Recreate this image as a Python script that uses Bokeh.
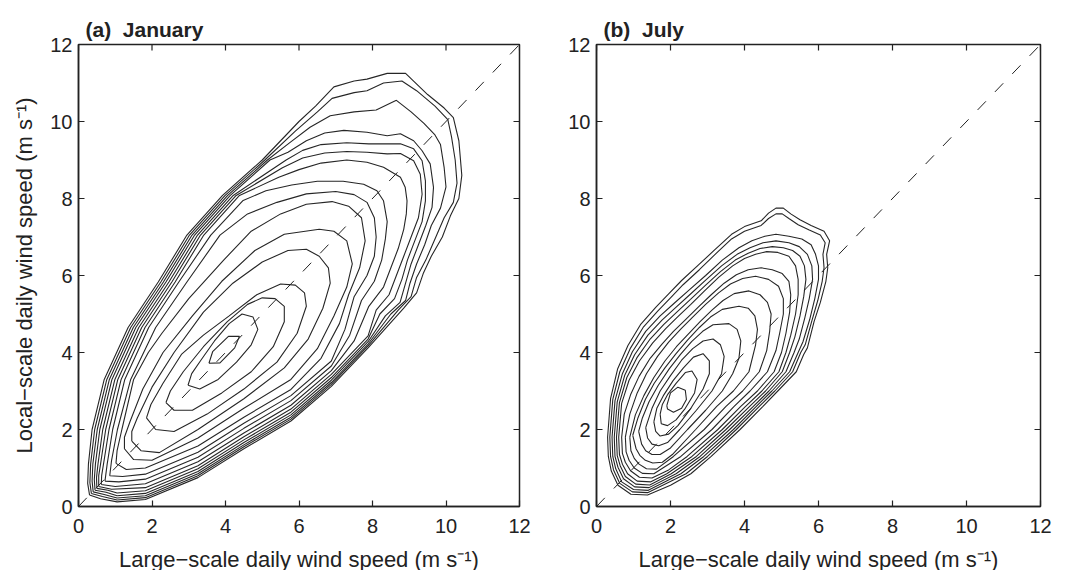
from bokeh.plotting import figure
from bokeh.layouts import row
from bokeh.models import FixedTicker, ColumnDataSource, Range1d
from bokeh.embed import file_html
from bokeh.resources import INLINE

# ---------------- data ----------------
TICKS = [0, 2, 4, 6, 8, 10, 12]
TITLES = ["(a) \u00a0January", "(b) \u00a0July"]
X_LABEL = "Large\u2212scale daily wind speed (m s\u207b\u00b9)"
Y_LABEL = "Local\u2212scale daily wind speed (m s\u207b\u00b9)"
DIAG_X = [0, 12]
DIAG_Y = [0, 12]

# (a) January: contour lines, innermost (01) to outermost (16), points (x, y)
JAN_01 = [(3.55,3.72),(3.85,3.73),(4.25,4.12),(4.38,4.42),(4.08,4.42),(3.65,4.02),(3.55,3.72)]
JAN_02 = [(2.98,3.15),(3.3,3.05),(3.8,3.3),(4.3,3.75),(4.7,4.2),(4.88,4.6),(4.75,4.92),(4.45,5.0),(4.1,4.75),(3.7,4.3),(3.33,3.8),(3.08,3.45),(2.98,3.15)]
JAN_03 = [(2.38,2.7),(2.6,2.5),(3.1,2.5),(3.9,2.95),(4.7,3.5),(5.3,4.15),(5.6,4.8),(5.6,5.2),(5.35,5.4),(5.0,5.42),(4.6,5.25),(4.05,4.8),(3.4,4.15),(2.85,3.5),(2.5,3.0),(2.38,2.7)]
JAN_04 = [(1.85,2.3),(2.1,2.0),(2.6,1.95),(3.5,2.4),(4.5,3.05),(5.4,3.75),(5.95,4.5),(6.2,5.2),(6.15,5.55),(5.9,5.75),(5.5,5.78),(4.85,5.5),(4.1,4.95),(3.4,4.45),(2.8,3.95),(2.3,3.2),(1.97,2.65),(1.85,2.3)]
JAN_05 = [(1.45,1.7),(1.7,1.45),(2.2,1.4),(3.25,2.0),(4.5,2.8),(5.6,3.6),(6.25,4.35),(6.65,5.15),(6.85,5.8),(6.8,6.2),(6.55,6.5),(6.2,6.68),(5.7,6.65),(5.0,6.35),(4.2,5.8),(3.4,5.05),(2.6,4.0),(2.0,3.1),(1.6,2.3),(1.45,1.95),(1.45,1.7)]
JAN_06 = [(1.25,1.5),(1.5,1.22),(2.0,1.2),(3.25,1.78),(4.5,2.55),(5.78,3.3),(6.5,4.1),(6.95,4.95),(7.3,5.7),(7.45,6.3),(7.3,6.9),(6.95,7.15),(6.55,7.2),(5.6,7.07),(4.8,6.65),(3.9,5.85),(3.1,4.95),(2.3,4.0),(1.75,3.05),(1.4,2.2),(1.25,1.8),(1.25,1.5)]
JAN_07 = [(1.02,1.12),(1.3,0.96),(1.82,1.0),(3.25,1.57),(4.5,2.32),(5.78,3.04),(6.6,3.85),(7.1,4.75),(7.35,5.5),(7.65,6.2),(7.8,6.9),(7.7,7.5),(7.35,7.8),(6.9,7.92),(6.2,7.85),(5.5,7.6),(4.7,7.15),(3.95,6.4),(3.0,5.4),(2.27,4.5),(1.9,4.0),(1.5,3.3),(1.18,2.0),(1.05,1.45),(1.02,1.12)]
JAN_08 = [(0.85,0.8),(1.2,0.78),(1.82,0.84),(3.25,1.41),(4.5,2.16),(5.78,2.88),(6.88,3.78),(7.25,4.6),(7.5,5.45),(7.85,6.0),(8.05,6.5),(8.1,7.0),(8.05,7.5),(7.85,7.9),(7.5,8.1),(7.0,8.18),(6.2,8.12),(5.4,7.9),(4.6,7.6),(3.85,7.05),(2.95,5.83),(2.1,4.65),(1.42,3.3),(1.06,2.0),(0.9,1.2),(0.85,0.8)]
JAN_09 = [(0.72,0.66),(1.1,0.64),(1.82,0.71),(3.25,1.28),(4.5,2.03),(5.78,2.75),(6.88,3.65),(7.38,4.45),(7.7,5.35),(8.05,5.85),(8.25,6.4),(8.35,6.95),(8.4,7.4),(8.3,7.94),(8.12,8.2),(7.76,8.37),(7.2,8.45),(6.5,8.45),(5.8,8.35),(5.1,8.2),(4.48,7.95),(3.6,7.05),(2.73,5.83),(1.91,4.65),(1.26,3.3),(0.93,2.0),(0.78,1.1),(0.72,0.66)]
JAN_10 = [(0.62,0.57),(1.0,0.52),(1.82,0.59),(3.25,1.16),(4.5,1.91),(5.78,2.63),(6.88,3.53),(7.5,4.3),(7.9,5.2),(8.3,5.7),(8.5,6.2),(8.7,6.7),(8.85,7.2),(8.92,7.6),(8.94,7.94),(8.89,8.29),(8.76,8.55),(8.3,8.81),(7.85,8.94),(7.3,9.0),(6.6,8.92),(6.0,8.75),(5.45,8.55),(4.38,8.08),(3.41,7.05),(2.63,5.83),(1.81,4.65),(1.16,3.3),(0.83,2.0),(0.68,1.1),(0.63,0.8),(0.62,0.57)]
JAN_11 = [(0.55,0.52),(0.9,0.45),(1.82,0.49),(3.25,1.06),(4.5,1.81),(5.78,2.53),(6.88,3.43),(7.88,4.43),(8.1,5.1),(8.45,5.5),(8.65,6.0),(8.85,6.5),(9.05,7.0),(9.25,7.5),(9.35,8.11),(9.3,8.63),(9.12,8.98),(8.76,9.17),(8.4,9.16),(7.85,9.2),(7.3,9.22),(6.7,9.18),(6.1,9.05),(5.55,8.8),(4.29,8.08),(3.32,7.05),(2.54,5.83),(1.72,4.65),(1.07,3.3),(0.74,2.0),(0.6,1.1),(0.55,0.8),(0.55,0.52)]
JAN_12 = [(0.5,0.47),(0.8,0.42),(1.05,0.35),(1.82,0.41),(3.25,0.98),(4.5,1.73),(5.78,2.45),(6.88,3.35),(7.88,4.35),(8.2,5.0),(8.6,5.4),(8.8,5.9),(8.95,6.4),(9.15,6.9),(9.35,7.4),(9.44,7.94),(9.44,8.46),(9.35,8.98),(9.12,9.29),(8.76,9.42),(8.4,9.42),(7.9,9.42),(7.3,9.45),(6.6,9.4),(6.1,9.25),(5.65,9.0),(4.21,8.08),(3.24,7.05),(2.46,5.83),(1.64,4.65),(0.99,3.3),(0.66,2.0),(0.53,1.1),(0.49,0.75),(0.5,0.47)]
JAN_13 = [(0.45,0.42),(0.75,0.37),(1.05,0.28),(1.82,0.34),(3.25,0.91),(4.5,1.66),(5.78,2.38),(6.88,3.28),(7.88,4.28),(8.35,4.95),(8.75,5.3),(8.9,5.8),(9.05,6.3),(9.25,6.8),(9.45,7.3),(9.62,7.77),(9.66,8.29),(9.57,8.9),(9.35,9.24),(9.12,9.5),(8.76,9.68),(8.4,9.63),(7.85,9.72),(7.22,9.77),(6.7,9.7),(6.2,9.5),(5.7,9.2),(5.21,9.0),(4.13,8.08),(3.16,7.05),(2.38,5.83),(1.56,4.65),(0.91,3.3),(0.58,2.0),(0.46,1.1),(0.43,0.7),(0.45,0.42)]
JAN_14 = [(0.4,0.38),(0.7,0.31),(1.05,0.22),(1.82,0.28),(3.25,0.85),(4.5,1.6),(5.78,2.32),(6.88,3.22),(7.88,4.22),(8.5,5.0),(8.9,5.35),(9.02,5.8),(9.2,6.3),(9.42,6.8),(9.6,7.3),(9.85,7.75),(10.0,8.3),(9.95,8.8),(9.85,9.4),(9.7,9.65),(9.4,9.95),(9.05,10.25),(8.65,10.55),(8.1,10.3),(7.5,10.25),(6.85,10.15),(6.3,9.85),(5.75,9.45),(5.14,9.0),(4.06,8.08),(3.09,7.05),(2.31,5.83),(1.49,4.65),(0.84,3.3),(0.51,2.0),(0.39,1.1),(0.37,0.66),(0.4,0.38)]
JAN_15 = [(0.35,0.34),(0.65,0.26),(1.05,0.17),(1.82,0.23),(3.25,0.8),(4.5,1.55),(5.78,2.27),(6.88,3.17),(7.88,4.17),(8.7,5.1),(9.05,5.45),(9.2,5.95),(9.45,6.4),(9.7,6.95),(9.95,7.5),(10.2,7.9),(10.3,8.4),(10.25,9.0),(10.15,9.6),(10.05,10.05),(9.7,10.4),(9.2,10.8),(8.8,11.05),(8.3,11.0),(7.85,10.8),(7.5,10.75),(6.9,10.6),(6.5,10.25),(5.9,9.75),(5.07,9.0),(3.99,8.08),(3.02,7.05),(2.24,5.83),(1.42,4.65),(0.77,3.3),(0.44,2.0),(0.33,1.1),(0.31,0.62),(0.35,0.34)]
JAN_16 = [(0.3,0.3),(0.6,0.2),(1.05,0.12),(1.82,0.18),(3.25,0.75),(4.5,1.5),(5.78,2.22),(6.88,3.12),(7.88,4.12),(8.85,5.15),(9.2,5.55),(9.38,6.05),(9.6,6.5),(9.9,7.0),(10.12,7.55),(10.35,8.0),(10.43,8.6),(10.35,9.5),(10.2,10.1),(9.95,10.35),(9.5,10.7),(8.9,11.25),(8.4,11.25),(7.85,11.1),(7.5,11.05),(6.95,10.9),(6.45,10.4),(6.0,10.0),(5.0,9.0),(3.92,8.08),(2.95,7.05),(2.17,5.83),(1.35,4.65),(0.7,3.3),(0.37,2.0),(0.27,1.1),(0.25,0.6),(0.3,0.3)]

# (b) July: contour lines, innermost (01) to outermost (15), points (x, y)
JUL_01 = [(1.9,2.62),(2.0,2.95),(2.2,3.1),(2.4,3.02),(2.43,2.78),(2.3,2.55),(2.08,2.45),(1.92,2.53),(1.9,2.62)]
JUL_02 = [(1.72,2.4),(1.75,2.15),(1.92,2.1),(2.15,2.25),(2.4,2.55),(2.65,2.95),(2.72,3.3),(2.58,3.52),(2.4,3.48),(2.15,3.2),(1.93,2.92),(1.78,2.65),(1.72,2.4)]
JUL_03 = [(1.55,2.2),(1.6,1.95),(1.72,1.83),(1.95,1.88),(2.2,2.1),(2.55,2.55),(2.88,3.05),(3.05,3.45),(3.05,3.78),(2.88,3.97),(2.62,3.88),(2.35,3.6),(2.07,3.27),(1.82,2.9),(1.63,2.55),(1.55,2.2)]
JUL_04 = [(1.33,2.05),(1.38,1.78),(1.5,1.62),(1.68,1.58),(1.92,1.66),(2.25,2.0),(2.7,2.5),(3.12,3.0),(3.38,3.45),(3.45,3.9),(3.35,4.2),(3.15,4.35),(2.88,4.3),(2.6,4.1),(2.3,3.8),(2.0,3.4),(1.72,3.0),(1.5,2.55),(1.33,2.05)]
JUL_05 = [(1.14,1.95),(1.22,1.62),(1.33,1.45),(1.5,1.35),(1.72,1.35),(2.0,1.52),(2.46,2.0),(2.95,2.5),(3.4,3.0),(3.68,3.45),(3.85,3.85),(3.9,4.3),(3.8,4.6),(3.58,4.75),(3.15,4.72),(2.87,4.55),(2.57,4.28),(2.27,3.95),(1.97,3.58),(1.67,3.15),(1.42,2.72),(1.24,2.3),(1.14,1.95)]
JUL_06 = [(0.98,1.85),(1.07,1.5),(1.17,1.33),(1.32,1.2),(1.52,1.13),(1.78,1.15),(2.05,1.35),(2.68,2.0),(3.25,2.6),(3.7,3.0),(4.12,3.5),(4.3,4.2),(4.35,4.6),(4.28,4.95),(4.1,5.15),(3.85,5.2),(3.4,5.12),(3.08,4.92),(2.78,4.65),(2.46,4.32),(2.15,3.97),(1.85,3.6),(1.56,3.2),(1.32,2.78),(1.12,2.3),(0.98,1.85)]
JUL_07 = [(0.9,1.8),(0.93,1.45),(1.02,1.25),(1.15,1.1),(1.35,0.98),(1.62,0.97),(2.08,1.3),(2.91,2.0),(3.5,2.6),(3.95,3.0),(4.4,3.5),(4.6,4.05),(4.68,4.55),(4.72,5.0),(4.62,5.3),(4.42,5.5),(4.12,5.6),(3.72,5.53),(3.42,5.35),(3.12,5.1),(2.8,4.8),(2.48,4.48),(2.16,4.15),(1.85,3.78),(1.55,3.35),(1.28,2.88),(1.05,2.38),(0.9,1.8)]
JUL_08 = [(0.78,1.8),(0.8,1.42),(0.88,1.2),(1.02,1.0),(1.24,0.86),(1.55,0.85),(2.28,1.3),(3.12,2.0),(3.72,2.6),(4.15,3.0),(4.62,3.5),(4.85,4.05),(4.95,4.5),(5.05,5.0),(5.05,5.4),(4.92,5.72),(4.65,5.9),(4.3,5.98),(3.95,5.92),(3.62,5.78),(3.3,5.55),(2.95,5.25),(2.6,4.92),(2.27,4.6),(1.95,4.27),(1.65,3.9),(1.35,3.45),(1.1,2.95),(0.9,2.4),(0.78,1.8)]
JUL_09 = [(0.68,1.8),(0.7,1.38),(0.78,1.15),(0.92,0.93),(1.16,0.76),(1.5,0.74),(1.95,0.95),(2.45,1.3),(3.28,2.0),(3.9,2.6),(4.35,3.0),(4.8,3.5),(5.0,4.0),(5.12,4.5),(5.22,5.05),(5.25,5.5),(5.2,5.85),(5.02,6.05),(4.75,6.15),(4.45,6.2),(4.1,6.15),(3.78,6.02),(3.45,5.8),(3.1,5.5),(2.75,5.18),(2.4,4.85),(2.08,4.55),(1.77,4.22),(1.45,3.85),(1.15,3.38),(0.92,2.9),(0.75,2.4),(0.68,1.8)]
JUL_10 = [(0.6,1.8),(0.62,1.35),(0.7,1.1),(0.84,0.85),(1.1,0.66),(1.47,0.64),(1.9,0.85),(2.58,1.3),(3.4,2.0),(4.03,2.6),(4.47,3.0),(4.93,3.5),(5.12,4.0),(5.25,4.45),(5.38,5.0),(5.45,5.5),(5.45,5.9),(5.38,6.25),(5.2,6.5),(4.9,6.6),(4.6,6.62),(4.3,6.55),(4.0,6.44),(3.68,6.25),(3.3,5.95),(2.92,5.6),(2.55,5.25),(2.2,4.93),(1.87,4.62),(1.52,4.25),(1.16,3.78),(0.88,3.28),(0.68,2.68),(0.6,1.8)]
JUL_11 = [(0.54,1.8),(0.56,1.32),(0.64,1.06),(0.78,0.78),(1.06,0.58),(1.44,0.56),(2.02,0.85),(2.7,1.3),(3.5,2.0),(4.14,2.6),(4.57,3.0),(5.02,3.5),(5.22,4.0),(5.36,4.4),(5.5,4.95),(5.6,5.45),(5.66,5.9),(5.62,6.25),(5.5,6.5),(5.3,6.65),(5.05,6.72),(4.75,6.75),(4.42,6.7),(4.1,6.58),(3.75,6.4),(3.35,6.1),(2.95,5.75),(2.54,5.38),(2.17,5.05),(1.82,4.73),(1.45,4.35),(1.09,3.86),(0.82,3.35),(0.62,2.7),(0.54,1.8)]
JUL_12 = [(0.48,1.8),(0.5,1.3),(0.58,1.02),(0.73,0.72),(1.03,0.51),(1.42,0.49),(2.15,0.85),(2.8,1.3),(3.6,2.0),(4.24,2.6),(4.66,3.0),(5.12,3.5),(5.34,4.0),(5.48,4.35),(5.63,4.9),(5.75,5.4),(5.84,5.9),(5.82,6.25),(5.7,6.55),(5.48,6.75),(5.2,6.85),(4.85,6.9),(4.5,6.85),(4.15,6.72),(3.8,6.55),(3.38,6.25),(2.95,5.88),(2.52,5.5),(2.13,5.16),(1.77,4.84),(1.39,4.45),(1.03,3.94),(0.76,3.4),(0.56,2.72),(0.48,1.8)]
JUL_13 = [(0.42,1.8),(0.44,1.3),(0.52,0.98),(0.68,0.64),(1.0,0.44),(1.4,0.42),(2.28,0.85),(2.9,1.3),(3.7,2.0),(4.32,2.6),(4.74,3.0),(5.22,3.5),(5.45,4.0),(5.58,4.28),(5.76,4.85),(5.9,5.4),(6.0,5.9),(6.0,6.25),(5.92,6.55),(5.8,6.8),(5.55,6.95),(5.2,7.02),(4.85,7.07),(4.55,7.02),(4.2,6.9),(3.85,6.72),(3.4,6.4),(2.95,6.0),(2.5,5.62),(2.1,5.28),(1.72,4.95),(1.33,4.55),(0.97,4.02),(0.7,3.45),(0.5,2.75),(0.42,1.8)]
JUL_14 = [(0.36,1.8),(0.38,1.3),(0.46,0.95),(0.63,0.6),(0.97,0.38),(1.38,0.36),(2.42,0.85),(3.0,1.3),(3.78,2.0),(4.4,2.6),(4.82,3.0),(5.3,3.5),(5.52,4.0),(5.64,4.2),(5.82,4.82),(5.98,5.35),(6.1,5.85),(6.15,6.2),(6.12,6.55),(6.18,6.85),(6.05,7.05),(5.75,7.18),(5.45,7.32),(5.2,7.48),(5.02,7.6),(4.85,7.6),(4.65,7.48),(4.45,7.3),(4.0,7.15),(3.65,6.95),(3.22,6.56),(2.78,6.15),(2.34,5.76),(2.0,5.42),(1.66,5.08),(1.26,4.65),(0.91,4.1),(0.63,3.5),(0.44,2.78),(0.36,1.8)]
JUL_15 = [(0.3,1.8),(0.32,1.3),(0.4,0.92),(0.58,0.55),(0.93,0.32),(1.38,0.3),(2.0,0.55),(2.55,0.85),(3.1,1.3),(3.88,2.0),(4.5,2.6),(4.9,3.0),(5.4,3.5),(5.6,3.95),(5.7,4.12),(5.88,4.8),(6.05,5.3),(6.2,5.85),(6.25,6.2),(6.22,6.55),(6.3,6.9),(6.15,7.15),(5.8,7.3),(5.5,7.45),(5.25,7.6),(5.05,7.75),(4.85,7.75),(4.65,7.62),(4.45,7.42),(4.0,7.27),(3.65,7.07),(3.2,6.67),(2.75,6.27),(2.3,5.87),(1.95,5.52),(1.6,5.17),(1.2,4.74),(0.85,4.18),(0.57,3.57),(0.38,2.8),(0.3,1.8)]

JAN = [JAN_01, JAN_02, JAN_03, JAN_04, JAN_05, JAN_06, JAN_07, JAN_08,
       JAN_09, JAN_10, JAN_11, JAN_12, JAN_13, JAN_14, JAN_15, JAN_16]
JUL = [JUL_01, JUL_02, JUL_03, JUL_04, JUL_05, JUL_06, JUL_07, JUL_08,
       JUL_09, JUL_10, JUL_11, JUL_12, JUL_13, JUL_14, JUL_15]

# ---------------- styling ----------------
FONT = "Liberation Sans"
INK = "#222222"
LINE = "#262626"
FRAME_H = 462
TICK_PX = 6
X_MIN, X_MAX = 0, 12


def style_axis(ax, standoff):
    ax.ticker = FixedTicker(ticks=TICKS)
    ax.major_tick_in = TICK_PX
    ax.major_tick_out = 0
    ax.minor_tick_line_color = None
    ax.axis_line_color = INK
    ax.axis_line_width = 1.5
    ax.major_tick_line_color = INK
    ax.major_tick_line_width = 1.2
    ax.major_label_text_font = FONT
    ax.major_label_text_color = INK
    ax.major_label_standoff = standoff
    ax.major_label_text_font_size = "20px"
    ax.axis_label_text_font = FONT
    ax.axis_label_text_font_size = "22px"
    ax.axis_label_text_font_style = "normal"
    ax.axis_label_text_color = INK


def make_panel(title, contours, frame_w, left, right, ylabel):
    p = figure(frame_width=frame_w, frame_height=FRAME_H,
               x_range=Range1d(X_MIN, X_MAX), y_range=Range1d(X_MIN, X_MAX),
               output_backend="svg", toolbar_location=None,
               min_border_left=left, min_border_right=right,
               min_border_top=44, min_border_bottom=64,
               title=title,
               background_fill_color="white", border_fill_color="white")
    p.grid.visible = False
    p.outline_line_color = INK
    p.outline_line_width = 1.5

    p.title.text_font = FONT
    p.title.text_font_size = "21px"
    p.title.text_font_style = "bold"
    p.title.text_color = INK
    p.title.align = "left"
    p.title.offset = 7
    p.title.standoff = 8

    style_axis(p.xaxis[0], 12)
    style_axis(p.yaxis[0], 6)
    p.xaxis[0].axis_label = X_LABEL
    p.xaxis[0].axis_label_standoff = 11
    if ylabel:
        p.yaxis[0].axis_label = Y_LABEL
        p.yaxis[0].axis_label_standoff = 10

    # inward ticks on the top and right edges of the box
    span = X_MAX - X_MIN
    dy = TICK_PX * span / FRAME_H
    dx = TICK_PX * span / frame_w
    n = len(TICKS)
    p.segment(x0=TICKS, y0=[X_MAX] * n, x1=TICKS, y1=[X_MAX - dy] * n,
              line_color=INK, line_width=1.2)
    p.segment(x0=[X_MAX] * n, y0=TICKS, x1=[X_MAX - dx] * n, y1=TICKS,
              line_color=INK, line_width=1.2)

    p.line(DIAG_X, DIAG_Y, line_color=INK, line_width=1, line_dash="12 13")

    src = ColumnDataSource(dict(
        xs=[[pt[0] for pt in c] for c in contours],
        ys=[[pt[1] for pt in c] for c in contours],
    ))
    p.multi_line(xs="xs", ys="ys", source=src, line_color=LINE, line_width=1.1)
    return p


p1 = make_panel(TITLES[0], JAN, 441, 78, 21, True)
p2 = make_panel(TITLES[1], JUL, 444, 56, 25, False)

layout = row(p1, p2)
open("out.html", "w").write(file_html(layout, INLINE))
